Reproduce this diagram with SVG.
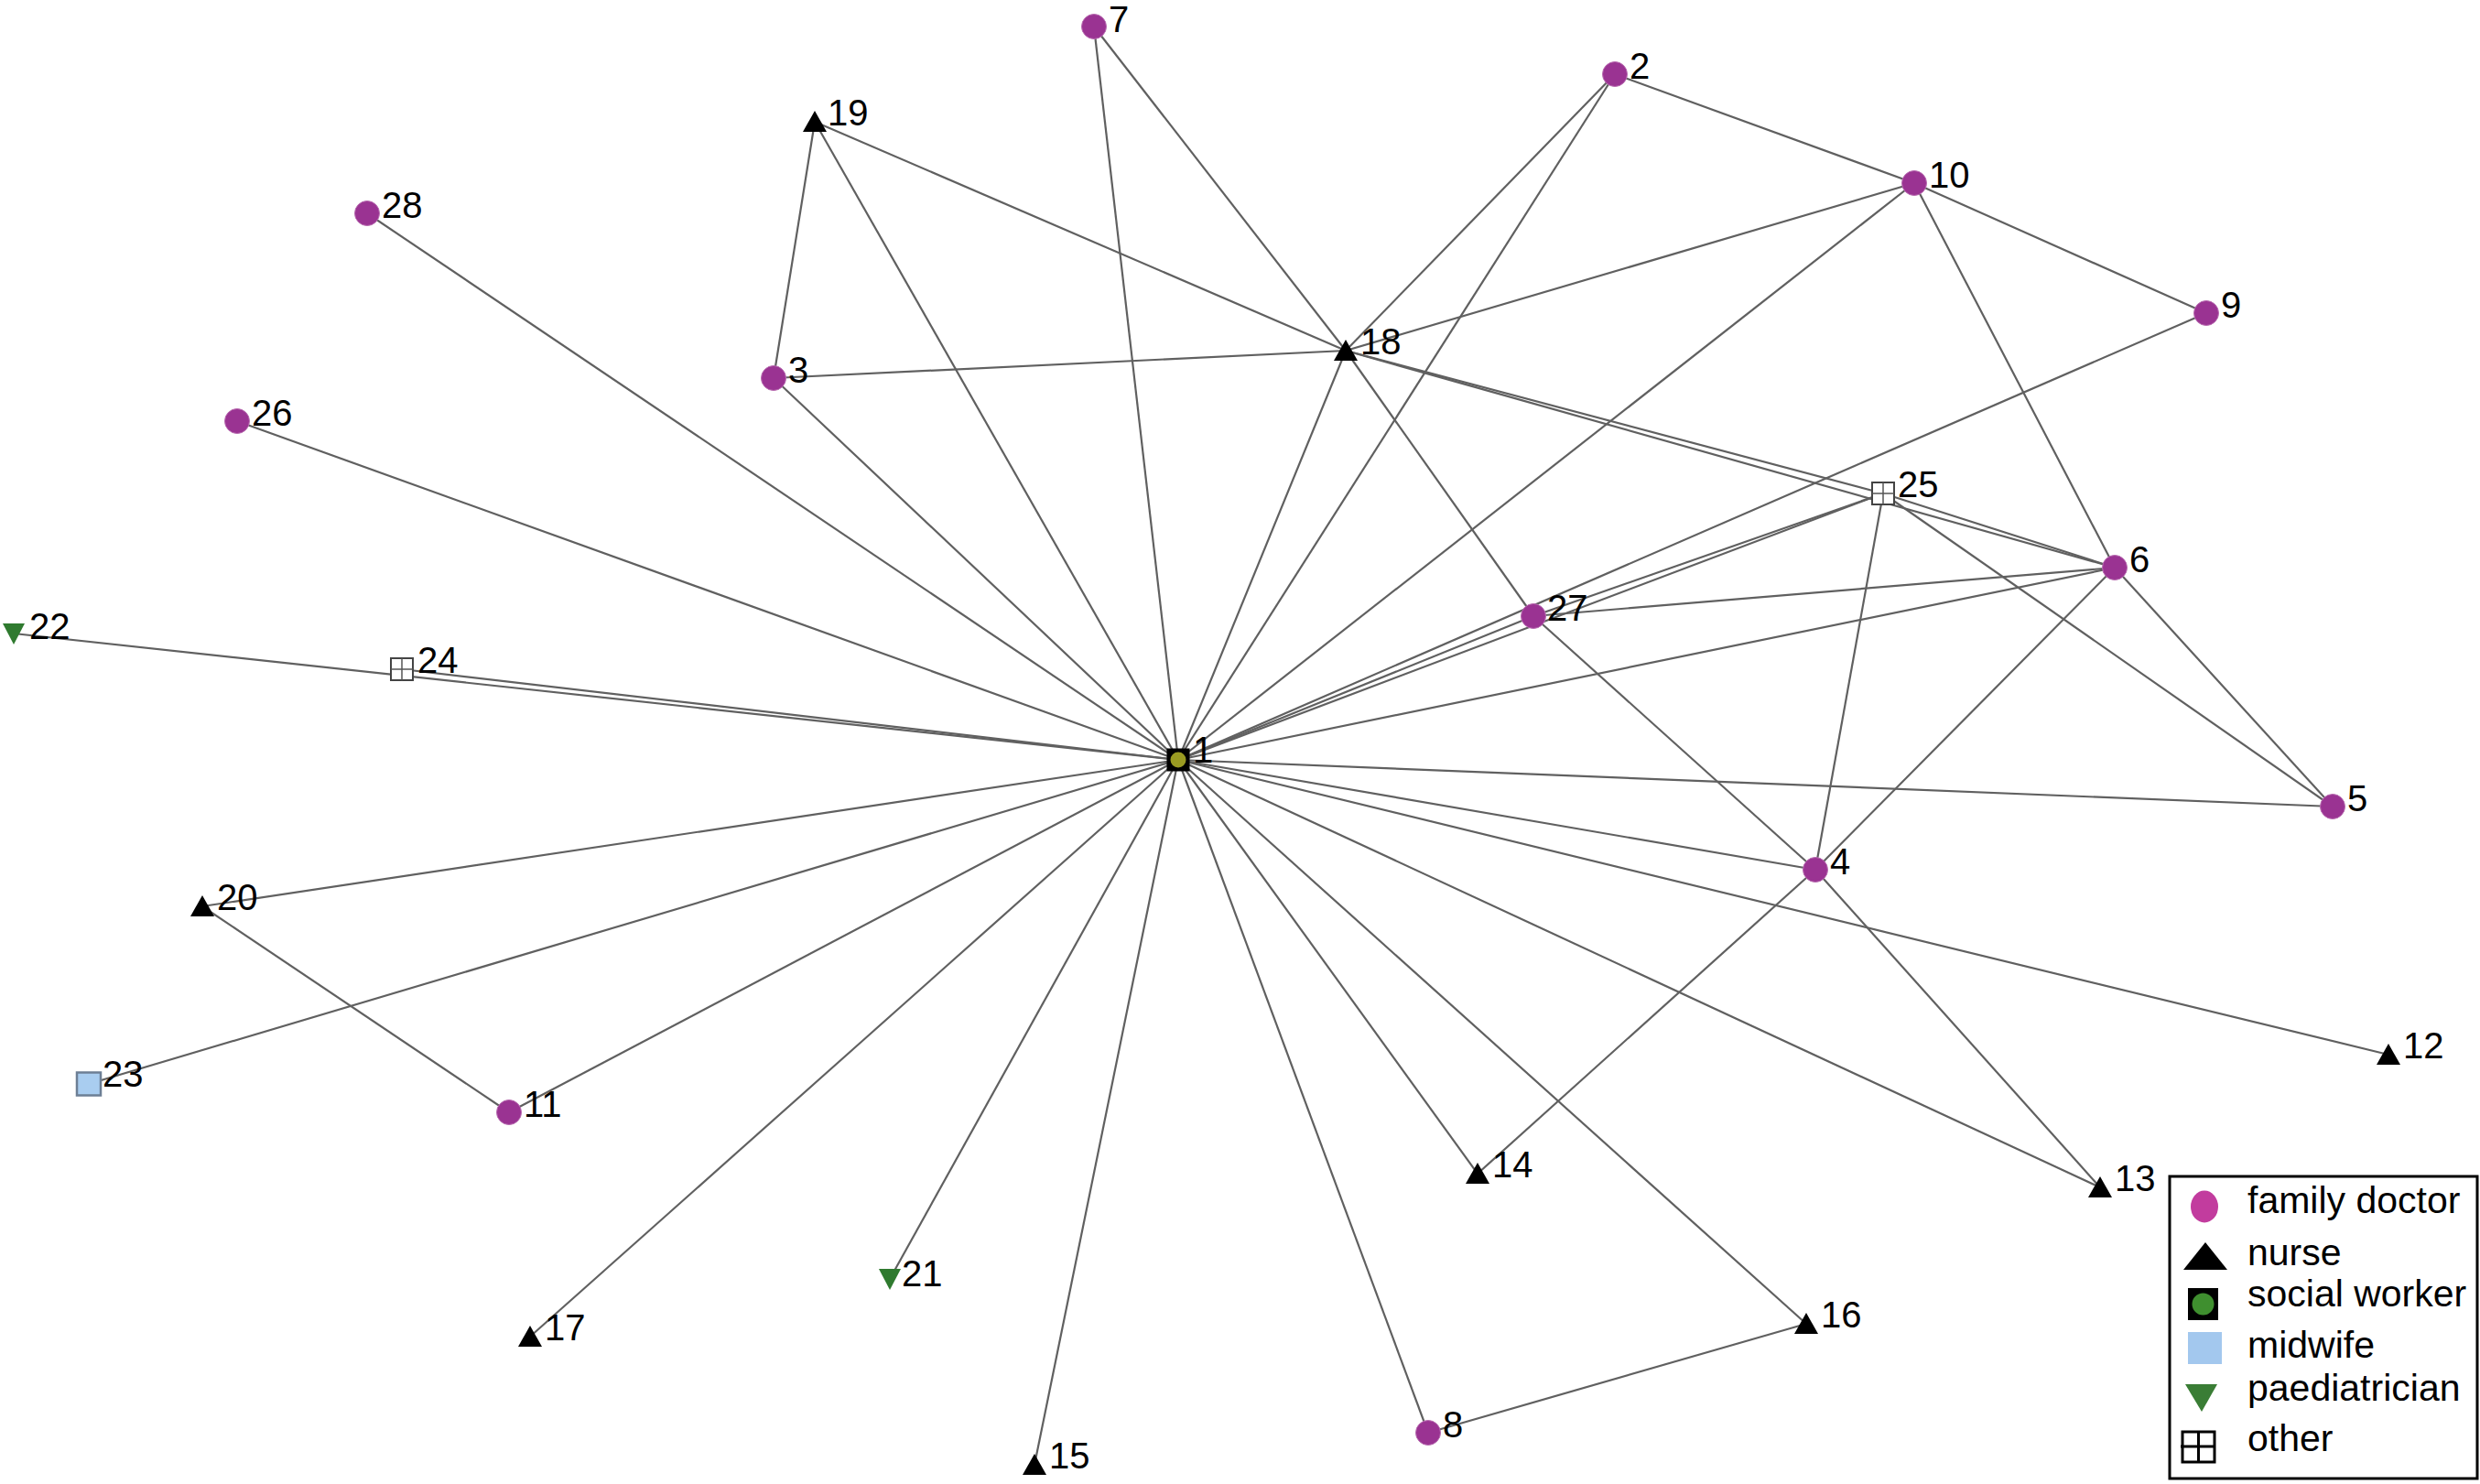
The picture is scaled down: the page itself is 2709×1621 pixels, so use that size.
<svg xmlns="http://www.w3.org/2000/svg" xmlns:xlink="http://www.w3.org/1999/xlink" width="2709" height="1621" viewBox="0 0 2709 1621">
<style>
.e{stroke:#606060;stroke-width:2.2;fill:none}
.lbl{font-family:"Liberation Sans",Arial,sans-serif;font-size:40px;fill:#000}
.leg{font-family:"Liberation Sans",Arial,sans-serif;font-size:41px;fill:#000}
</style>
<defs>
<g id="doc"><circle r="13.5" fill="#9a3392" stroke="#b86bb0" stroke-width="1"/></g>
<g id="nurse"><polygon points="0,-12 13,11 -13,11" fill="#000"/></g>
<g id="soc"><rect x="-12.5" y="-12.5" width="25" height="25" fill="#000"/><circle r="8.5" fill="#9a9b22"/></g>
<g id="mid"><rect x="-13" y="-12.5" width="26" height="25" fill="#a9cdf0" stroke="#6d7f95" stroke-width="2.5"/></g>
<g id="ped"><polygon points="-12,-11 12,-11 0,12" fill="#2f7a2f"/></g>
<g id="oth"><rect x="-12" y="-12" width="24" height="24" fill="#fff" stroke="#444" stroke-width="2"/><line x1="0" y1="-12" x2="0" y2="12" stroke="#555" stroke-width="1.5"/><line x1="-12" y1="0" x2="12" y2="0" stroke="#555" stroke-width="1.5"/></g>
</defs>
<rect width="2709" height="1621" fill="#fff"/>
<g id="connectors">
<line class="e" x1="1287" y1="830" x2="401" y2="233"/>
<line class="e" x1="1287" y1="830" x2="259" y2="460"/>
<line class="e" x1="1287" y1="830" x2="15" y2="692"/>
<line class="e" x1="1287" y1="830" x2="439" y2="731"/>
<line class="e" x1="1287" y1="830" x2="845" y2="413"/>
<line class="e" x1="1287" y1="830" x2="890" y2="133"/>
<line class="e" x1="1287" y1="830" x2="1195" y2="29"/>
<line class="e" x1="1287" y1="830" x2="1470" y2="383"/>
<line class="e" x1="1287" y1="830" x2="1764" y2="81"/>
<line class="e" x1="1287" y1="830" x2="2091" y2="200"/>
<line class="e" x1="1287" y1="830" x2="1675" y2="673"/>
<line class="e" x1="1287" y1="830" x2="2057" y2="539"/>
<line class="e" x1="1287" y1="830" x2="2410" y2="342"/>
<line class="e" x1="1287" y1="830" x2="2310" y2="620"/>
<line class="e" x1="1287" y1="830" x2="2548" y2="881"/>
<line class="e" x1="1287" y1="830" x2="1983" y2="950"/>
<line class="e" x1="1287" y1="830" x2="2609" y2="1152"/>
<line class="e" x1="1287" y1="830" x2="2294" y2="1297"/>
<line class="e" x1="1287" y1="830" x2="1973" y2="1446"/>
<line class="e" x1="1287" y1="830" x2="1614" y2="1282"/>
<line class="e" x1="1287" y1="830" x2="1560" y2="1565"/>
<line class="e" x1="1287" y1="830" x2="1130" y2="1600"/>
<line class="e" x1="1287" y1="830" x2="972" y2="1397"/>
<line class="e" x1="1287" y1="830" x2="579" y2="1460"/>
<line class="e" x1="1287" y1="830" x2="556" y2="1215"/>
<line class="e" x1="1287" y1="830" x2="97" y2="1184"/>
<line class="e" x1="1287" y1="830" x2="221" y2="990"/>
<line class="e" x1="890" y1="133" x2="845" y2="413"/>
<line class="e" x1="890" y1="133" x2="1470" y2="383"/>
<line class="e" x1="845" y1="413" x2="1470" y2="383"/>
<line class="e" x1="1195" y1="29" x2="1470" y2="383"/>
<line class="e" x1="1764" y1="81" x2="1470" y2="383"/>
<line class="e" x1="1764" y1="81" x2="2091" y2="200"/>
<line class="e" x1="2091" y1="200" x2="1470" y2="383"/>
<line class="e" x1="2091" y1="200" x2="2410" y2="342"/>
<line class="e" x1="2091" y1="200" x2="2310" y2="620"/>
<line class="e" x1="1470" y1="383" x2="2057" y2="539"/>
<line class="e" x1="1470" y1="383" x2="2310" y2="620"/>
<line class="e" x1="1470" y1="383" x2="1675" y2="673"/>
<line class="e" x1="1675" y1="673" x2="1983" y2="950"/>
<line class="e" x1="2057" y1="539" x2="1675" y2="673"/>
<line class="e" x1="2057" y1="539" x2="2310" y2="620"/>
<line class="e" x1="2057" y1="539" x2="2548" y2="881"/>
<line class="e" x1="2057" y1="539" x2="1983" y2="950"/>
<line class="e" x1="1675" y1="673" x2="2310" y2="620"/>
<line class="e" x1="2310" y1="620" x2="1983" y2="950"/>
<line class="e" x1="2310" y1="620" x2="2548" y2="881"/>
<line class="e" x1="1983" y1="950" x2="1614" y2="1282"/>
<line class="e" x1="1983" y1="950" x2="2294" y2="1297"/>
<line class="e" x1="221" y1="990" x2="556" y2="1215"/>
<line class="e" x1="1560" y1="1565" x2="1973" y2="1446"/>
</g>
<g id="n1"><use xlink:href="#soc" x="1287" y="830"/><text class="lbl" x="1303" y="833">1</text></g>
<g id="n2"><use xlink:href="#doc" x="1764" y="81"/><text class="lbl" x="1780" y="86">2</text></g>
<g id="n3"><use xlink:href="#doc" x="845" y="413"/><text class="lbl" x="861" y="418">3</text></g>
<g id="n4"><use xlink:href="#doc" x="1983" y="950"/><text class="lbl" x="1999" y="955">4</text></g>
<g id="n5"><use xlink:href="#doc" x="2548" y="881"/><text class="lbl" x="2564" y="886">5</text></g>
<g id="n6"><use xlink:href="#doc" x="2310" y="620"/><text class="lbl" x="2326" y="625">6</text></g>
<g id="n7"><use xlink:href="#doc" x="1195" y="29"/><text class="lbl" x="1211" y="35">7</text></g>
<g id="n8"><use xlink:href="#doc" x="1560" y="1565"/><text class="lbl" x="1576" y="1570">8</text></g>
<g id="n9"><use xlink:href="#doc" x="2410" y="342"/><text class="lbl" x="2426" y="347">9</text></g>
<g id="n10"><use xlink:href="#doc" x="2091" y="200"/><text class="lbl" x="2107" y="205">10</text></g>
<g id="n11"><use xlink:href="#doc" x="556" y="1215"/><text class="lbl" x="572" y="1220">11</text></g>
<g id="n12"><use xlink:href="#nurse" x="2609" y="1152"/><text class="lbl" x="2625" y="1156">12</text></g>
<g id="n13"><use xlink:href="#nurse" x="2294" y="1297"/><text class="lbl" x="2310" y="1301">13</text></g>
<g id="n14"><use xlink:href="#nurse" x="1614" y="1282"/><text class="lbl" x="1630" y="1286">14</text></g>
<g id="n15"><use xlink:href="#nurse" x="1130" y="1600"/><text class="lbl" x="1146" y="1604">15</text></g>
<g id="n16"><use xlink:href="#nurse" x="1973" y="1446"/><text class="lbl" x="1989" y="1450">16</text></g>
<g id="n17"><use xlink:href="#nurse" x="579" y="1460"/><text class="lbl" x="595" y="1464">17</text></g>
<g id="n18"><use xlink:href="#nurse" x="1470" y="383"/><text class="lbl" x="1486" y="387">18</text></g>
<g id="n19"><use xlink:href="#nurse" x="890" y="133"/><text class="lbl" x="904" y="137">19</text></g>
<g id="n20"><use xlink:href="#nurse" x="221" y="990"/><text class="lbl" x="237" y="994">20</text></g>
<g id="n21"><use xlink:href="#ped" x="972" y="1397"/><text class="lbl" x="985" y="1405">21</text></g>
<g id="n22"><use xlink:href="#ped" x="15" y="692"/><text class="lbl" x="32" y="698">22</text></g>
<g id="n23"><use xlink:href="#mid" x="97" y="1184"/><text class="lbl" x="112" y="1187">23</text></g>
<g id="n24"><use xlink:href="#oth" x="439" y="731"/><text class="lbl" x="456" y="735">24</text></g>
<g id="n25"><use xlink:href="#oth" x="2057" y="539"/><text class="lbl" x="2073" y="543">25</text></g>
<g id="n26"><use xlink:href="#doc" x="259" y="460"/><text class="lbl" x="275" y="465">26</text></g>
<g id="n27"><use xlink:href="#doc" x="1675" y="673"/><text class="lbl" x="1690" y="678">27</text></g>
<g id="n28"><use xlink:href="#doc" x="401" y="233"/><text class="lbl" x="417" y="238">28</text></g>
<g id="legend">
<rect x="2370" y="1285" width="336" height="330" fill="#fff" stroke="#000" stroke-width="3"/>
<ellipse cx="2408" cy="1318" rx="15" ry="17.5" fill="#c23c9e"/>
<text class="leg" x="2455" y="1325">family doctor</text>
<polygon points="2409,1357 2433,1387 2385,1387" fill="#000"/>
<text class="leg" x="2455" y="1382">nurse</text>
<rect x="2390" y="1407" width="33" height="35" fill="#000"/>
<circle cx="2406.5" cy="1424.5" r="12" fill="#3f8f2f"/>
<text class="leg" x="2455" y="1427">social worker</text>
<rect x="2390" y="1455" width="37" height="35" fill="#a3c8ee"/>
<text class="leg" x="2455" y="1483">midwife</text>
<polygon points="2387,1512 2422,1512 2405,1542" fill="#3a7d35"/>
<text class="leg" x="2455" y="1530">paediatrician</text>
<rect x="2384" y="1564" width="35" height="33" fill="#fff" stroke="#000" stroke-width="3"/>
<line x1="2401.5" y1="1564" x2="2401.5" y2="1597" stroke="#000" stroke-width="3"/>
<line x1="2382" y1="1580" x2="2419" y2="1580" stroke="#000" stroke-width="3"/>
<text class="leg" x="2455" y="1585">other</text>
</g>
</svg>
